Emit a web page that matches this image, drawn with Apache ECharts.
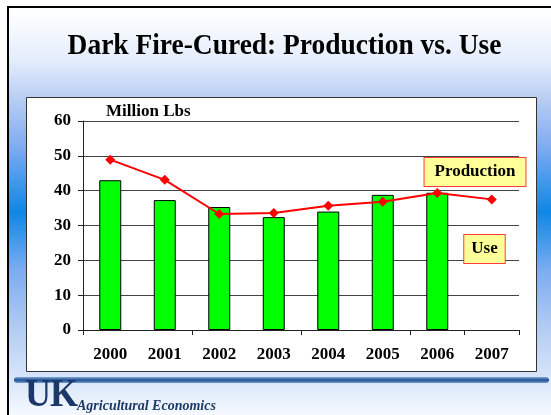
<!DOCTYPE html>
<html>
<head>
<meta charset="utf-8">
<script src="https://cdn.jsdelivr.net/npm/echarts@6/dist/echarts.min.js"></script>
<style>
  html, body { margin: 0; padding: 0; background: #fff; }
  #chart { width: 551px; height: 415px; }
</style>
</head>
<body>
<div id="chart"></div>
<script>
// Dark fire-cured tobacco, million lbs
const years = ['2000', '2001', '2002', '2003', '2004', '2005', '2006', '2007'];
const useVals = [43.0, 37.3, 35.3, 32.4, 34.0, 38.8, 39.4, null];
const productionVals = [48.9, 43.1, 33.3, 33.6, 35.7, 36.8, 39.3, 37.5];
const yTicks = [0, 10, 20, 30, 40, 50, 60];

const serif = '"Liberation Serif", "Times New Roman", serif';
const chart = echarts.init(document.getElementById('chart'), null, { renderer: 'canvas' });

chart.setOption({
  animation: false,
  backgroundColor: {
    type: 'linear', x: 0, y: 0, x2: 0, y2: 1,
    colorStops: [
      { offset: 0.00, color: '#ffffff' },
      { offset: 0.03, color: '#fdfeff' },
      { offset: 0.14, color: '#e6eefc' },
      { offset: 0.24, color: '#b8cdf3' },
      { offset: 0.36, color: '#7caaf0' },
      { offset: 0.51, color: '#0d87e6' },
      { offset: 0.65, color: '#7cacf0' },
      { offset: 0.80, color: '#b6cef3' },
      { offset: 0.92, color: '#dae7fa' },
      { offset: 1.00, color: '#f6f9ff' }
    ]
  },
  graphic: [
    // white margins outside the slide frame
    { type: 'rect', z: -20, shape: { x: 0, y: 0, width: 551, height: 6 }, style: { fill: '#ffffff' } },
    { type: 'rect', z: -20, shape: { x: 0, y: 0, width: 7, height: 415 }, style: { fill: '#ffffff' } },
    // slide frame
    { type: 'rect', z: -19, shape: { x: 7, y: 6, width: 544, height: 2 }, style: { fill: '#000000' } },
    { type: 'rect', z: -19, shape: { x: 7, y: 6, width: 2, height: 409 }, style: { fill: '#000000' } },
    // chart panel
    { type: 'rect', z: -18, shape: { x: 26.5, y: 97.5, width: 510, height: 274 },
      style: { fill: '#ffffff', stroke: '#333333', lineWidth: 1 } },
    // title
    { type: 'text', z: 10, x: 284.5, y: 46, scaleX: 0.915,
      style: { text: 'Dark Fire-Cured: Production vs. Use', font: 'bold 30px ' + serif,
               fill: '#000000', align: 'center', verticalAlign: 'middle' } },
    // series labels
    { type: 'text', z: 10, x: 475, y: 172,
      style: { text: 'Production', font: 'bold 17px ' + serif, fill: '#000000',
               align: 'center', verticalAlign: 'middle',
               backgroundColor: '#ffff99', borderColor: '#ff3b3b', borderWidth: 1,
               padding: [6, 10, 5, 10] } },
    { type: 'text', z: 10, x: 484.5, y: 249,
      style: { text: 'Use', font: 'bold 17px ' + serif, fill: '#000000',
               align: 'center', verticalAlign: 'middle',
               backgroundColor: '#ffff99', borderColor: '#ff3b3b', borderWidth: 1,
               padding: [6, 7, 5, 7] } },
    // footer rule
    { type: 'rect', z: 5, shape: { x: 14, y: 377, width: 535, height: 6, r: 3 },
      style: { fill: { type: 'linear', x: 0, y: 0, x2: 0, y2: 1,
        colorStops: [ { offset: 0, color: '#7fa9dc' }, { offset: 0.5, color: '#1f4f8e' }, { offset: 1, color: '#6f9bd2' } ] } } },
    // footer logo and unit name
    { type: 'text', z: 5, x: 25, y: 416, scaleX: 0.9,
      style: { text: 'U', font: 'bold 40px ' + serif, fill: '#1c3866', align: 'left', verticalAlign: 'bottom' } },
    { type: 'text', z: 5, x: 50, y: 416, scaleX: 0.9,
      style: { text: 'K', font: 'bold 40px ' + serif, fill: '#1c3866', align: 'left', verticalAlign: 'bottom' } },
    { type: 'text', z: 5, x: 77, y: 406,
      style: { text: 'Agricultural Economics', font: 'italic bold 14px ' + serif, fill: '#1c3866',
               align: 'left', verticalAlign: 'middle' } }
  ],
  grid: { left: 83, right: 32, top: 121, bottom: 85, containLabel: false },
  xAxis: {
    type: 'category',
    data: years,
    boundaryGap: true,
    axisLine: { show: true, lineStyle: { color: '#222', width: 1 } },
    axisTick: { show: true, interval: 1, length: 5, lineStyle: { color: '#222' } },
    axisLabel: { interval: 0, margin: 16, color: '#000', fontFamily: serif, fontWeight: 'bold', fontSize: 17 }
  },
  yAxis: {
    type: 'value',
    min: 0, max: 60, interval: 10,
    name: 'Million Lbs',
    nameLocation: 'end',
    nameGap: 1,
    nameTextStyle: { align: 'left', padding: [0, 0, 0, 23], color: '#000', fontFamily: serif, fontWeight: 'bold', fontSize: 17 },
    axisLine: { show: true, lineStyle: { color: '#222', width: 1 } },
    axisTick: { show: true, length: 5, lineStyle: { color: '#222' } },
    axisLabel: { margin: 12, color: '#000', fontFamily: serif, fontWeight: 'bold', fontSize: 17,
                 formatter: v => yTicks.includes(v) ? String(v) : '' },
    splitLine: { show: true, lineStyle: { color: '#444', width: 1 } }
  },
  series: [
    {
      name: 'Use',
      type: 'bar',
      data: useVals,
      barWidth: 22,
      itemStyle: { color: '#00ff00', borderColor: '#000', borderWidth: 1 },
      z: 2
    },
    {
      name: 'Production',
      type: 'line',
      data: productionVals,
      symbol: 'diamond',
      symbolSize: 10,
      lineStyle: { color: '#ff0000', width: 2 },
      itemStyle: { color: '#ff0000' },
      z: 3
    }
  ]
});
</script>
</body>
</html>
